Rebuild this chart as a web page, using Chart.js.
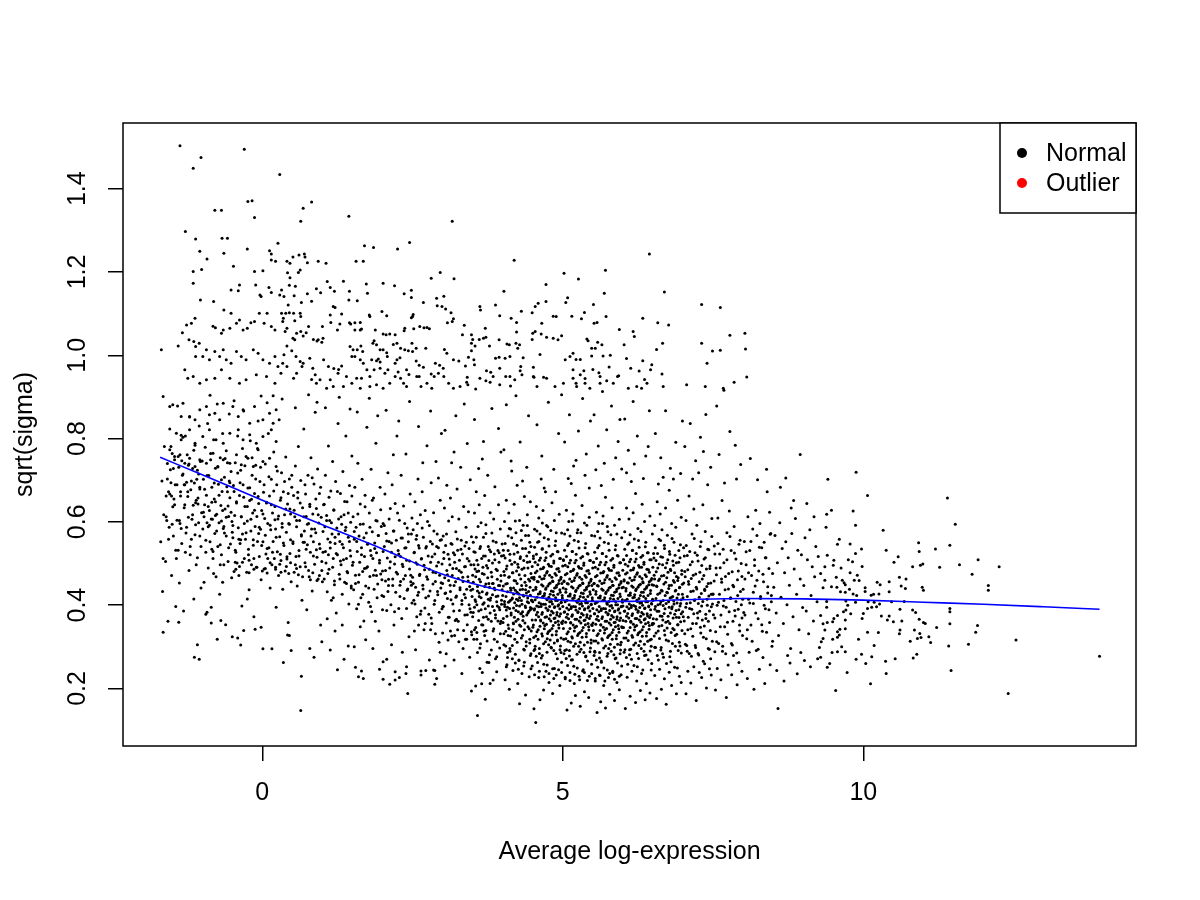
<!DOCTYPE html>
<html><head><meta charset="utf-8">
<script src="https://cdn.jsdelivr.net/npm/chart.js@4.4.1/dist/chart.umd.min.js"></script>
<style>html,body{margin:0;padding:0;background:#fff}#wrap{width:1200px;height:900px}</style>
</head><body><div id="wrap"><canvas id="c" width="1200" height="900"></canvas></div>
<script>
// ---- axis / labels ----
const xTicks = [0, 5, 10];
const yTicks = [0.2, 0.4, 0.6, 0.8, 1.0, 1.2, 1.4];
const xLabel = 'Average log-expression';
const yLabel = 'sqrt(sigma)';
const seriesLabels = ['Normal', 'Outlier'];

// ---- points: flat [x, y, x, y, ...] ----
// high-variance points (upper part of the cloud)
const upperPts = [
-1.37,1.503,-1.02,1.475,-1.15,1.449,-.30,1.495,.29,1.434,-.24,1.369,-.17,1.371,-.79,1.348,-.68,1.348,-.13,1.331,.82,1.368,.68,1.353,.64,1.322,1.44,1.334,3.16,1.322,
-1.28,1.297,-1.11,1.279,-.67,1.281,-.58,1.281,-1.04,1.25,-.92,1.231,-.64,1.245,-.25,1.255,.12,1.251,.15,1.243,.26,1.269,
1.70,1.263,1.85,1.259,2.25,1.255,2.45,1.271,6.44,1.243,4.19,1.228,.61,1.241,.70,1.243,.71,1.236,.51,1.236,.41,1.226,.46,1.221,.93,1.226,1.06,1.221,.75,1.222,1.56,1.226,1.68,1.226,
-1.15,1.201,-1.01,1.206,-1.15,1.173,-.48,1.214,-.13,1.201,.01,1.203,.15,1.229,.22,1.226,
5.71,1.204,5.02,1.197,5.26,1.183,.42,1.198,.63,1.205,.60,1.199,.46,1.186,2.81,1.185,2.96,1.199,3.19,1.184,4.72,1.17,6.69,1.152,5.69,1.149,4.02,1.154,1.08,1.177,1.35,1.178,1.73,1.171,1.75,1.149,2.01,1.173,2.20,1.167,2.48,1.156,2.36,1.148,2.48,1.139,.45,1.168,.55,1.166,.32,1.157,.36,1.141,.53,1.143,.75,1.148,1.45,1.154,1.58,1.131,1.44,1.133,.97,1.15,.90,1.16,1.20,1.154,1.13,1.163,.82,1.13,.65,1.127,.43,1.121,2.68,1.127,2.90,1.137,3.02,1.142,2.91,1.119,2.99,1.117,3.05,1.111,3.14,1.102,3.18,1.088,3.08,1.078,3.16,1.081,3.36,1.072,3.62,1.117,3.63,1.109,3.88,1.121,3.95,1.095,4.14,1.089,4.23,1.079,4.31,1.106,4.49,1.102,4.54,1.117,4.59,1.125,4.72,1.129,4.84,1.094,4.89,1.093,5.05,1.127,5.08,1.138,5.15,1.094,5.31,1.088,5.36,1.103,5.51,1.122,5.52,1.077,5.57,1.079,5.72,1.093,5.94,1.062,6.17,1.057,6.19,1.045,6.33,1.089,6.58,1.078,6.76,1.073,7.31,1.122,7.62,1.115,7.31,1.029,7.49,1.01,7.62,1.012,7.40,.981,6.56,1.014,6.66,1.029,6.33,.987,6.48,.977,6.46,.965,6.65,.955,6.36,.942,6.06,.992,6.13,.969,5.93,.951,6.02,1.025,5.79,1.0,5.67,.998,5.48,.998,5.40,1.039,5.42,1.035,5.48,1.017,5.54,1.017,5.58,1.031,5.65,1.025,5.35,.963,5.50,.966,5.37,.944,5.62,.933,5.73,.939,5.91,.949,5.22,.99,5.29,.99,5.12,.997,5.04,.989,5.17,1.005,5.22,.933,4.98,1.047,4.92,1.037,4.84,1.041,4.73,1.043,4.64,1.051,4.65,1.077,4.50,1.053,4.54,1.057,4.49,1.038,4.23,1.056,4.28,1.025,4.22,1.029,4.25,1.017,4.07,1.027,4.11,1.025,3.94,1.037,3.88,.993,3.94,.995,4.04,.993,4.12,.997,4.34,.994,4.30,.973,4.29,.963,4.51,.971,4.52,.947,4.68,.947,4.62,1.002,4.20,.941,4.05,.949,4.13,.926,3.95,.969,3.73,.963,3.80,.959,3.72,.939,3.79,.935,3.61,1.038,3.68,1.041,3.71,1.065,3.72,1.043,3.78,1.022,3.50,1.038,3.48,1.049,3.48,1.029,3.54,1.022,3.43,.995,3.48,1.011,3.52,.989,3.33,1.049,3.18,.989,3.27,.986,3.38,.974,3.53,.977,3.42,.929,3.40,.935,3.55,.919,3.03,1.014,3.07,1.005,2.88,.981,2.95,.976,3.01,.969,2.81,.955,2.93,.957,2.86,.949,3.02,.949,2.72,1.017,2.56,1.017,2.50,1.009,2.62,1.069,2.69,1.066,2.74,1.067,2.78,1.064,2.51,1.098,2.50,1.093,2.48,1.09,2.52,1.064,2.37,1.065,2.36,1.059,2.49,1.029,2.56,.986,2.61,.976,2.57,.949,2.61,.949,2.68,.971,2.64,.925,2.24,1.029,2.18,1.026,2.30,1.017,2.37,1.013,2.43,1.011,2.29,.994,2.24,.989,2.21,.981,2.40,.965,2.44,.954,2.35,.933,2.40,.925,2.26,.96,2.21,.949,2.30,.945,2.01,1.051,2.06,1.049,2.12,1.051,2.21,1.049,1.96,1.013,2.01,1.013,2.07,1.006,2.08,.997,1.90,1.025,1.86,1.035,1.84,1.029,1.93,.991,1.96,.984,1.90,.987,1.79,1.093,1.78,1.097,1.88,1.061,1.99,1.105,2.07,1.095,1.63,1.061,1.65,1.063,1.54,1.061,1.54,1.078,1.47,1.075,1.45,1.078,1.63,1.079,1.25,1.061,1.32,1.099,1.29,1.075,1.18,1.117,1.21,1.115,1.13,1.097,1.14,1.079,1.00,1.069,.93,1.037,.99,1.031,1.01,1.041,.85,1.038,.91,1.034,.77,1.069,.73,1.054,.68,1.046,.64,1.057,.57,1.053,.54,1.037,.51,1.041,.41,1.065,.38,1.057,.35,1.089,.32,1.101,.39,1.101,.45,1.102,.52,1.101,.63,1.101,.64,1.093,.34,1.081,.54,1.083,.41,1.022,.49,1.011,.56,.997,.36,1.001,.34,.981,.41,.973,.31,.957,.63,.985,.66,.973,.68,.981,.57,.957,.52,.945,.79,.993,.84,.969,.88,.953,.82,.942,.96,.941,.90,.933,1.02,.989,1.10,.973,1.19,.968,1.27,.966,1.32,.974,1.26,.957,1.46,1.021,1.51,1.013,1.58,1.013,1.64,1.022,1.54,.997,1.49,.997,1.63,.989,1.67,1.009,1.68,.981,1.74,.965,1.65,.945,1.79,.949,1.82,.989,1.86,.965,1.96,.969,2.04,.957,2.09,.965,2.12,.933,1.40,.949,1.49,.933,1.57,.945,1.35,.925,1.13,.941,1.18,.925,1.07,.921,1.79,.925,1.90,.929,2.01,.921,1.63,.921,2.74,.933,2.82,.921,3.10,.933,3.18,.921,3.29,.925,3.41,.947,3.62,.945,3.84,.949,3.95,.929,4.12,.949,4.32,.953,4.51,.949,4.57,.925,4.73,.945,4.87,.925,5.01,.933,5.17,.965,5.29,.953,5.17,.945,5.23,.925,5.37,.933,5.45,.921,5.62,.949,5.84,.933,6.09,.921,6.23,.925,6.40,.933,6.67,.925,7.06,.929,7.37,.925,7.67,.921,8.03,1.053,8.04,1.015,8.06,.948,7.68,.916,
-1.40,1.022,-1.68,1.013,-1.22,1.037,-1.14,1.033,-1.12,1.089,-1.26,1.073,-1.18,1.077,-1.33,1.054,-1.03,1.133,-.81,1.129,-.52,1.157,-.38,1.169,-.40,1.155,-.11,1.169,-.04,1.145,-.02,1.141,.11,1.163,.15,1.151,.29,1.145,-.82,1.07,-.78,1.066,-.68,1.053,-.65,1.061,-.54,1.065,-.52,1.101,-.64,1.109,-.43,1.077,-.38,1.085,-.32,1.061,-.25,1.065,-.19,1.078,-.13,1.081,-.05,1.101,.03,1.077,.08,1.101,.15,1.069,.21,1.061,-1.11,1.021,-1.05,1.029,-.93,1.013,-.79,1.009,-.71,.997,-.60,.989,-.52,.981,-.65,1.013,-.88,.989,-.99,.997,-1.11,.997,-.43,1.009,-.35,.997,-.27,.989,-.15,1.013,-.07,1.005,.01,.989,.12,.981,.21,.997,.26,.973,-1.29,.965,-1.24,.945,-1.15,.949,-1.04,.933,-.93,.941,-.79,.945,-.68,.965,-.54,.945,-.38,.933,-.27,.941,-.10,.953,.07,.949,.21,.933,-1.65,.901,-1.54,.877,-1.49,.881,-1.35,.853,-1.32,.885,-1.21,.853,-1.12,.845,-1.04,.869,-.93,.877,-.88,.857,-.79,.861,-.71,.845,-.65,.885,-.49,.877,-.40,.853,-.32,.869,-.21,.837,-.13,.877,.01,.845,.12,.861,.18,.837,.23,.869,-1.43,.813,-1.35,.797,-1.21,.821,-1.12,.789,-.99,.805,-.88,.821,-.77,.797,-.65,.789,-.54,.813,-.40,.821,-.32,.797,-.21,.809,-.10,.789,.01,.805,.15,.821,.23,.793,-1.54,.773,-1.46,.749,-1.37,.761,-1.29,.741,-1.21,.753,-1.12,.733,-1.04,.749,-.93,.741,-.82,.765,-.74,.733,-.65,.749,-.54,.741,-.43,.761,-.35,.737,-.24,.753,-.15,.733,-.07,.773,.01,.745,.12,.753,.23,.733
];
// low average expression (x < 2)
const lowExprPts = [
-1.69,.552,-1.67,.698,-1.66,.433,-1.64,.617,-1.63,.781,-1.61,.505,-1.6,.662,-1.58,.740,-1.57,.361,-1.55,.587,-1.54,.823,-1.52,.694,-1.51,.471,-1.49,.636,-1.48,.566,-1.46,.757,-1.45,.689,-1.43,.512,-1.42,.604,-1.41,.878,-1.39,.731,-1.38,.453,-1.36,.662,-1.35,.584,-1.33,.712,-1.32,.803,-1.31,.386,-1.29,.641,-1.28,.527,-1.26,.695,-1.25,.761,-1.23,.611,-1.22,.483,-1.21,.852,-1.19,.677,-1.18,.558,-1.16,.728,-1.15,.640,-1.14,.415,-1.12,.784,-1.11,.593,-1.09,.702,-1.08,.514,-1.07,.657,-1.05,.830,-1.04,.566,-1.03,.745,-1.02,.441,-1.01,.622,-1.65,.512,-1.59,.603,-1.53,.725,-1.47,.655,-1.44,.397,-1.37,.596,-1.34,.747,-1.27,.573,-1.24,.672,-1.2,.541,-1.17,.606,-1.13,.693,-1.1,.497,-1.06,.715,-1.56,.672,-1.4,.532,-1.3,.689,-1.13,.275,-1.5,.764,-1.35,.808,-1.23,.736,-1.11,.646,-1.04,.679,
-.99,.583,-.98,.702,-.97,.455,-.96,.641,-.95,.779,-.94,.527,-.93,.664,-.92,.598,-.91,.836,-.9,.489,-.89,.711,-.88,.627,-.87,.552,-.86,.749,-.85,.395,-.84,.683,-.83,.606,-.82,.512,-.81,.797,-.8,.655,-.79,.572,-.78,.729,-.77,.468,-.76,.618,-.75,.883,-.74,.541,-.73,.690,-.72,.598,-.71,.426,-.7,.754,-.69,.639,-.68,.521,-.67,.673,-.66,.812,-.65,.584,-.64,.497,-.63,.707,-.62,.631,-.61,.353,-.6,.566,-.59,.684,-.58,.742,-.57,.505,-.56,.613,-.55,.859,-.54,.658,-.53,.547,-.52,.721,-.51,.466,-.505,.601,-.97,.612,-.9,.588,-.84,.534,-.78,.648,-.7,.497,-.63,.573,-.57,.638,-.92,.383,-.75,.318,-.66,.455,-.55,.698,-.87,.904,-.6,.771,-.81,.476,-.68,.602,
-.49,.562,-.48,.687,-.47,.481,-.46,.615,-.45,.742,-.44,.527,-.43,.645,-.42,.501,-.41,.806,-.4,.586,-.39,.471,-.38,.663,-.37,.548,-.36,.724,-.35,.612,-.34,.398,-.33,.571,-.32,.689,-.31,.866,-.3,.512,-.29,.637,-.28,.558,-.27,.757,-.26,.479,-.25,.602,-.24,.681,-.23,.534,-.22,.437,-.21,.651,-.2,.795,-.19,.578,-.18,.497,-.17,.712,-.16,.621,-.15,.544,-.14,.372,-.13,.668,-.12,.589,-.11,.736,-.1,.491,-.09,.613,-.08,.553,-.07,.842,-.06,.644,-.05,.517,-.04,.697,-.03,.582,-.02,.461,-.01,.627,-.45,.503,-.38,.493,-.3,.596,-.22,.508,-.14,.486,-.06,.572,-.41,.321,-.25,.415,-.12,.342,-.47,.891,-.33,.776,-.18,.654,-.08,.776,-.02,.902,
.01,.552,.02,.671,.03,.487,.04,.608,.05,.739,.06,.523,.07,.645,.08,.477,.09,.596,.1,.812,.11,.538,.12,.662,.13,.441,.14,.581,.15,.702,.16,.497,.17,.621,.18,.553,.19,.768,.2,.512,.21,.637,.22,.583,.23,.395,.24,.689,.25,.528,.26,.607,.27,.471,.28,.845,.29,.564,.3,.652,.31,.507,.32,.718,.33,.596,.34,.438,.35,.672,.36,.543,.37,.617,.38,.482,.39,.756,.4,.575,.41,.511,.42,.643,.43,.358,.44,.596,.45,.703,.46,.524,.47,.619,.48,.456,.49,.683,.05,.488,.13,.502,.22,.486,.31,.479,.4,.493,.47,.502,.16,.295,.35,.262,.45,.327,.08,.886,.33,.895,.18,.903,
.51,.548,.52,.663,.53,.479,.54,.612,.55,.734,.56,.517,.57,.588,.58,.446,.59,.657,.6,.781,.61,.531,.62,.603,.63,.492,.64,.699,.65,.566,.66,.412,.67,.634,.68,.551,.69,.823,.7,.578,.71,.502,.72,.667,.73,.613,.74,.389,.75,.545,.76,.712,.77,.596,.78,.468,.79,.642,.8,.527,.81,.754,.82,.583,.83,.434,.84,.619,.85,.552,.86,.691,.87,.498,.88,.863,.89,.574,.9,.632,.91,.515,.92,.727,.93,.463,.94,.597,.95,.668,.96,.536,.97,.352,.98,.611,.99,.483,.57,.488,.72,.492,.84,.478,.95,.471,.64,.147,.65,.229,.79,.296,.86,.275,.99,.312,.77,.905,.91,.887,.55,.874,
1.01,.527,1.02,.641,1.03,.463,1.04,.588,1.05,.712,1.06,.501,1.07,.615,1.08,.432,1.09,.559,1.1,.782,1.11,.486,1.12,.603,1.13,.537,1.14,.674,1.15,.412,1.16,.571,1.17,.745,1.18,.512,1.19,.629,1.2,.458,1.21,.548,1.22,.697,1.23,.381,1.24,.585,1.25,.521,1.26,.836,1.27,.607,1.28,.474,1.29,.553,1.3,.668,1.31,.497,1.32,.594,1.33,.426,1.34,.721,1.35,.538,1.36,.617,1.37,.455,1.38,.579,1.39,.806,1.4,.512,1.41,.648,1.42,.478,1.43,.563,1.44,.403,1.45,.687,1.46,.531,1.47,.599,1.48,.446,1.49,.758,1.13,.292,1.25,.245,1.36,.270,1.43,.302,1.21,.338,1.08,.367,1.33,.352,1.05,.874,1.28,.899,1.46,.871,1.18,.418,
1.5,.496,1.51,.612,1.52,.437,1.53,.558,1.54,.683,1.55,.472,1.56,.587,1.57,.391,1.58,.529,1.59,.741,1.6,.455,1.61,.566,1.62,.503,1.63,.643,1.64,.418,1.65,.538,1.66,.702,1.67,.481,1.68,.595,1.69,.362,1.7,.517,1.71,.664,1.72,.446,1.73,.573,1.74,.827,1.75,.492,1.76,.548,1.77,.407,1.78,.621,1.79,.469,1.8,.531,1.81,.726,1.82,.384,1.83,.576,1.84,.512,1.85,.657,1.86,.438,1.87,.549,1.88,.484,1.89,.789,1.9,.526,1.91,.602,1.92,.451,1.93,.567,1.94,.338,1.95,.508,1.96,.683,1.97,.475,1.98,.589,1.99,.423,1.55,.251,1.65,.242,1.68,.224,1.6,.228,1.95,.246,1.53,.300,1.72,.317,1.84,.296,1.58,.864,1.78,.897,1.92,.855,1.63,.348,1.88,.361,
-1.65,.335,-1.39,.359,-1.08,.305,-1.05,.27,-.94,.378,-.85,.357,-.69,.363,-.50,.324,-.36,.304,-.31,.339,.01,.295,-.02,.347,.42,.328,.48,.291
];
// extra points in the dense band of low / mid expression
const leftExtraPts = [
-1.60,.612,-1.58,.703,-1.56,.558,-1.54,.667,-1.52,.781,-1.5,.594,-1.48,.728,-1.46,.641,-1.44,.532,-1.42,.689,-1.4,.757,-1.38,.603,-1.36,.672,-1.34,.548,-1.32,.715,-1.3,.634,-1.28,.806,-1.26,.587,-1.24,.661,-1.22,.739,-1.2,.521,-1.18,.698,-1.16,.617,-1.14,.772,-1.12,.569,-1.1,.652,-1.08,.724,-1.06,.598,-1.04,.683,-1.02,.541,-1,.746,-.98,.623,-.96,.678,-.94,.556,-.92,.711,-.9,.637,-.88,.592,-.86,.764,-.84,.647,-.82,.529,-.8,.693,-.78,.615,-.76,.578,-.74,.732,-.72,.664,-.7,.545,-.68,.701,-.66,.627,-.64,.589,-.62,.752,-.6,.611,-.58,.672,-.56,.538,-.54,.694,-.52,.623,-.5,.575,-1.51,.662,-1.29,.689,-1.07,.643,-.85,.607,
-.49,.591,-.47,.673,-.45,.532,-.43,.648,-.41,.717,-.39,.558,-.37,.694,-.35,.612,-.33,.503,-.31,.659,-.29,.735,-.27,.574,-.25,.637,-.23,.521,-.21,.682,-.19,.606,-.17,.754,-.15,.557,-.13,.628,-.11,.703,-.09,.491,-.07,.661,-.05,.587,-.03,.731,-.01,.543,.01,.619,.03,.689,.05,.568,.07,.647,.09,.512,.11,.708,.13,.592,.15,.641,.17,.527,.19,.674,.21,.605,.23,.563,.25,.722,.27,.614,.29,.498,.31,.658,.33,.587,.35,.549,.37,.697,.39,.631,.41,.516,.43,.668,.45,.594,.47,.557,.49,.712,-.44,.486,-.22,.478,0,.482,.22,.491,.44,.476,-.36,.557,-.14,.512,.08,.536,.3,.522,.46,.631,
.51,.552,.53,.628,.55,.497,.57,.603,.59,.671,.61,.518,.63,.645,.65,.569,.67,.468,.69,.612,.71,.689,.73,.534,.75,.594,.77,.483,.79,.637,.81,.566,.83,.706,.85,.518,.87,.583,.89,.655,.91,.459,.93,.617,.95,.547,.97,.683,.99,.505,1.01,.577,1.03,.642,1.05,.529,1.07,.603,1.09,.476,1.11,.659,1.13,.551,1.15,.598,1.17,.491,1.19,.628,1.21,.563,1.23,.524,1.25,.673,1.27,.571,1.29,.463,1.31,.612,1.33,.546,1.35,.509,1.37,.649,1.39,.587,1.41,.481,1.43,.621,1.45,.553,1.47,.518,1.49,.662,.6,.473,.8,.461,1.0,.456,1.2,.449,1.4,.452,.7,.551,.9,.533,1.1,.521,1.3,.506,1.48,.441,
1.51,.503,1.53,.577,1.55,.452,1.57,.553,1.59,.619,1.61,.473,1.63,.594,1.65,.521,1.67,.426,1.69,.562,1.71,.636,1.73,.489,1.75,.546,1.77,.441,1.79,.587,1.81,.519,1.83,.652,1.85,.472,1.87,.536,1.89,.603,1.91,.418,1.93,.567,1.95,.501,1.97,.629,1.99,.461,2.01,.529,2.03,.591,2.05,.483,2.07,.554,2.09,.433,2.11,.607,2.13,.504,2.15,.549,2.17,.447,2.19,.578,2.21,.516,2.23,.479,2.25,.621,2.27,.523,2.29,.421,2.31,.561,2.33,.498,2.35,.463,2.37,.596,2.39,.538,2.41,.436,2.43,.571,2.45,.506,2.47,.472,2.49,.609,1.6,.402,1.8,.397,2.0,.389,2.2,.384,2.4,.392,1.7,.488,1.9,.471,2.1,.462,2.3,.457,2.48,.448,
2.51,.452,2.525,.526,2.54,.403,2.555,.502,2.57,.567,2.585,.424,2.6,.543,2.615,.471,2.63,.378,2.645,.511,2.66,.585,2.675,.439,2.69,.496,2.705,.393,2.72,.537,2.735,.468,2.75,.601,2.765,.422,2.78,.486,2.795,.553,2.81,.369,2.825,.516,2.84,.451,2.855,.578,2.87,.411,2.885,.478,2.9,.541,2.915,.433,2.93,.503,2.945,.383,2.96,.556,2.975,.454,2.99,.499,3.005,.397,3.02,.527,3.035,.466,3.05,.429,3.065,.571,3.08,.473,3.095,.371,3.11,.511,3.125,.448,3.14,.413,3.155,.546,3.17,.488,3.185,.386,3.2,.521,3.215,.456,3.23,.422,3.245,.559,3.26,.361,3.275,.483,3.29,.437,3.305,.534,3.32,.402,3.335,.467,3.35,.339,3.365,.492,3.38,.418,3.395,.551,3.41,.377,3.425,.458,3.44,.506,3.455,.391,3.47,.436,3.485,.329,3.5,.472,2.6,.352,2.8,.341,3.0,.333,3.2,.327,3.4,.318
];
// mid average expression (2 <= x < 4)
const midExprPts = [
2.0,.482,2.01,.596,2.02,.421,2.03,.541,2.04,.667,2.05,.458,2.06,.572,2.07,.387,2.08,.513,2.09,.718,2.1,.447,2.11,.553,2.12,.489,2.13,.632,2.14,.401,2.15,.527,2.16,.689,2.17,.463,2.18,.578,2.19,.352,2.2,.499,2.21,.644,2.22,.431,2.23,.556,2.24,.806,2.25,.475,2.26,.531,2.27,.392,2.28,.604,2.29,.448,2.3,.517,2.31,.712,2.32,.368,2.33,.561,2.34,.493,2.35,.638,2.36,.416,2.37,.537,2.38,.471,2.39,.763,2.4,.508,2.41,.585,2.42,.439,2.43,.552,2.44,.324,2.45,.487,2.46,.667,2.47,.456,2.48,.571,2.49,.405,2.01,.222,2.12,.210,2.21,.240,2.28,.226,2.42,.188,2.01,.264,2.07,.270,2.21,.220,2.4,.252,2.39,.236,2.15,.305,2.33,.287,2.06,.868,2.27,.842,2.45,.889,2.18,.761,
2.5,.467,2.51,.581,2.52,.412,2.53,.527,2.54,.648,2.55,.443,2.56,.558,2.57,.372,2.58,.498,2.59,.703,2.6,.431,2.61,.537,2.62,.474,2.63,.617,2.64,.386,2.65,.512,2.66,.672,2.67,.448,2.68,.563,2.69,.341,2.7,.485,2.71,.627,2.72,.418,2.73,.541,2.74,.783,2.75,.462,2.76,.518,2.77,.378,2.78,.591,2.79,.434,2.8,.503,2.81,.694,2.82,.356,2.83,.547,2.84,.479,2.85,.622,2.86,.402,2.87,.523,2.88,.457,2.89,.745,2.9,.494,2.91,.571,2.92,.425,2.93,.538,2.94,.311,2.95,.472,2.96,.652,2.97,.441,2.98,.557,2.99,.391,2.64,.242,2.72,.243,2.87,.243,2.9,.224,2.87,.210,2.64,.232,2.85,.244,2.55,.293,2.78,.268,2.96,.287,2.53,.338,2.71,.356,2.88,.331,2.6,.829,2.8,.866,2.98,.812,2.67,.742,2.93,.705,2.58,.596,
3.0,.452,3.01,.566,3.01,.397,3.02,.512,3.03,.633,3.04,.428,3.04,.254,3.05,.543,3.06,.357,3.07,.483,3.07,.688,3.08,.416,3.09,.522,3.1,.459,3.1,.602,3.11,.371,3.12,.497,3.13,.657,3.13,.433,3.14,.548,3.15,.326,3.16,.471,3.16,.612,3.17,.403,3.18,.526,3.19,.768,3.19,.447,3.2,.503,3.21,.363,3.22,.576,3.22,.419,3.23,.488,3.24,.679,3.25,.341,3.25,.532,3.26,.464,3.27,.607,3.28,.387,3.28,.508,3.29,.442,3.3,.731,3.31,.479,3.31,.556,3.32,.411,3.33,.523,3.34,.296,3.34,.457,3.35,.637,3.36,.426,3.37,.542,3.37,.376,3.38,.493,3.39,.587,3.4,.438,3.41,.512,3.41,.353,3.42,.468,3.43,.624,3.44,.401,3.44,.536,3.45,.445,3.46,.701,3.47,.383,3.47,.497,3.48,.564,3.49,.421,3.19,.268,3.32,.236,3.06,.283,3.27,.312,3.45,.275,3.13,.338,3.38,.318,3.04,.82,3.22,.855,3.41,.788,3.15,.742,3.36,.883,3.09,.316,3.48,.336,3.23,.366,
3.5,.438,3.51,.551,3.51,.382,3.52,.497,3.52,.318,3.53,.621,3.54,.413,3.54,.527,3.55,.346,3.55,.468,3.56,.672,3.57,.401,3.57,.508,3.58,.445,3.58,.286,3.59,.589,3.6,.363,3.6,.482,3.61,.641,3.61,.421,3.62,.536,3.63,.307,3.63,.456,3.64,.598,3.64,.389,3.65,.512,3.66,.751,3.66,.432,3.67,.491,3.67,.352,3.68,.563,3.69,.406,3.69,.474,3.7,.663,3.7,.327,3.71,.518,3.72,.451,3.72,.593,3.73,.372,3.73,.495,3.74,.429,3.75,.712,3.75,.466,3.76,.541,3.76,.398,3.77,.507,3.78,.281,3.78,.443,3.79,.622,3.79,.412,3.8,.528,3.81,.361,3.81,.479,3.82,.573,3.83,.425,3.83,.501,3.84,.338,3.84,.452,3.85,.607,3.86,.387,3.86,.523,3.87,.437,3.87,.684,3.88,.369,3.89,.486,3.89,.551,3.9,.408,3.91,.462,3.91,.312,3.92,.531,3.92,.422,3.93,.641,3.94,.394,3.94,.503,3.95,.447,3.96,.583,3.96,.356,3.97,.471,3.98,.518,3.98,.402,3.99,.437,3.55,.206,3.65,.211,3.79,.212,3.58,.135,3.71,.174,3.84,.220,3.9,.240,3.48,.194,3.62,.248,3.74,.263,3.88,.271,3.53,.846,3.68,.793,3.82,.872,3.97,.768,3.6,.728,3.93,.824,3.77,.262,3.66,.238,3.95,.297,3.57,.334,3.72,.339,3.86,.318
];
// core (4 <= x < 7)
const coreExprPts = [
4.0,.423,4.01,.532,4.01,.368,4.02,.481,4.02,.305,4.03,.601,4.03,.402,4.04,.513,4.05,.337,4.05,.451,4.06,.652,4.06,.388,4.07,.494,4.08,.432,4.08,.274,4.09,.566,4.09,.352,4.1,.467,4.1,.621,4.11,.409,4.12,.522,4.12,.296,4.13,.441,4.13,.583,4.14,.376,4.15,.498,4.15,.722,4.16,.417,4.16,.478,4.17,.341,4.18,.547,4.18,.393,4.19,.459,4.19,.642,4.2,.318,4.2,.503,4.21,.436,4.22,.574,4.22,.361,4.23,.482,4.23,.414,4.24,.688,4.24,.452,4.25,.527,4.26,.384,4.26,.491,4.27,.268,4.27,.427,4.28,.603,4.28,.398,4.29,.512,4.3,.349,4.3,.463,4.31,.556,4.31,.411,4.32,.486,4.33,.327,4.33,.438,4.34,.592,4.34,.373,4.35,.507,4.35,.422,4.36,.661,4.37,.357,4.37,.471,4.38,.536,4.38,.394,4.39,.447,4.39,.302,4.4,.518,4.41,.408,4.41,.617,4.42,.381,4.42,.489,4.43,.433,4.43,.567,4.44,.343,4.45,.458,4.45,.504,4.46,.389,4.46,.424,4.47,.283,4.47,.541,4.48,.412,4.48,.466,4.49,.364,4.49,.493,4.04,.221,4.11,.198,4.17,.243,4.25,.212,4.32,.236,4.38,.184,4.44,.228,4.07,.257,4.21,.261,4.35,.254,4.47,.247,4.28,.163,4.14,.746,4.29,.792,4.43,.855,4.06,.881,4.22,.903,4.4,.731,4.02,.773,4.33,.698,4.46,.648,4.12,.289,4.36,.292,4.24,.311,4.45,.318,4.09,.327,4.31,.379,4.18,.355,
4.5,.408,4.51,.518,4.51,.352,4.52,.467,4.52,.291,4.53,.582,4.53,.391,4.54,.503,4.55,.326,4.55,.438,4.56,.637,4.56,.377,4.57,.482,4.57,.419,4.58,.262,4.58,.551,4.59,.341,4.59,.456,4.6,.609,4.6,.396,4.61,.508,4.61,.284,4.62,.428,4.62,.571,4.63,.364,4.63,.487,4.64,.703,4.64,.403,4.65,.463,4.65,.331,4.66,.536,4.66,.382,4.67,.446,4.67,.627,4.68,.307,4.68,.491,4.69,.423,4.69,.562,4.7,.351,4.7,.471,4.71,.402,4.71,.672,4.72,.441,4.72,.514,4.73,.372,4.73,.477,4.74,.256,4.74,.413,4.75,.588,4.75,.387,4.76,.498,4.76,.336,4.77,.451,4.77,.542,4.78,.397,4.78,.472,4.79,.316,4.79,.426,4.8,.579,4.8,.362,4.81,.493,4.81,.409,4.82,.646,4.82,.344,4.83,.458,4.83,.522,4.84,.381,4.84,.433,4.85,.291,4.85,.506,4.86,.394,4.86,.603,4.87,.369,4.87,.476,4.88,.418,4.88,.554,4.89,.329,4.89,.443,4.9,.487,4.9,.376,4.91,.411,4.91,.271,4.92,.528,4.92,.398,4.93,.452,4.93,.353,4.94,.481,4.94,.618,4.95,.391,4.95,.437,4.96,.302,4.96,.512,4.97,.406,4.97,.467,4.98,.358,4.98,.573,4.99,.423,4.55,.118,4.52,.151,4.62,.173,4.68,.196,4.77,.214,4.83,.188,4.89,.232,4.95,.207,4.6,.226,4.72,.241,4.86,.248,4.98,.238,4.57,.833,4.65,.758,4.76,.887,4.85,.726,4.93,.812,4.69,.681,4.88,.672,4.98,.905,4.54,.301,4.66,.279,4.81,.297,4.91,.314,4.74,.319,4.97,.286,
5.0,.397,5.01,.509,5.01,.344,5.02,.458,5.02,.283,5.03,.571,5.03,.384,5.04,.496,5.05,.319,5.05,.431,5.06,.628,5.06,.371,5.07,.476,5.07,.412,5.08,.255,5.08,.543,5.09,.336,5.09,.451,5.1,.601,5.1,.389,5.11,.501,5.11,.278,5.12,.422,5.12,.566,5.13,.358,5.13,.481,5.14,.692,5.14,.396,5.15,.457,5.15,.324,5.16,.529,5.16,.377,5.17,.441,5.17,.619,5.18,.301,5.18,.486,5.19,.417,5.19,.556,5.2,.346,5.2,.466,5.21,.396,5.21,.664,5.22,.436,5.22,.508,5.23,.366,5.23,.472,5.24,.249,5.24,.407,5.25,.581,5.25,.382,5.26,.493,5.26,.331,5.27,.446,5.27,.537,5.28,.392,5.28,.467,5.29,.311,5.29,.421,5.3,.574,5.3,.357,5.31,.488,5.31,.404,5.32,.639,5.32,.339,5.33,.453,5.33,.517,5.34,.376,5.34,.428,5.35,.286,5.35,.501,5.36,.389,5.36,.597,5.37,.364,5.37,.471,5.38,.413,5.38,.548,5.39,.324,5.39,.438,5.4,.482,5.4,.371,5.41,.406,5.41,.266,5.42,.523,5.42,.393,5.43,.447,5.43,.348,5.44,.476,5.44,.611,5.45,.386,5.45,.432,5.46,.297,5.46,.507,5.47,.401,5.47,.462,5.48,.353,5.48,.567,5.49,.418,5.07,.148,5.14,.165,5.21,.183,5.29,.157,5.36,.192,5.43,.178,5.04,.223,5.12,.238,5.19,.212,5.27,.229,5.34,.245,5.41,.219,5.48,.236,5.03,.792,5.11,.857,5.18,.734,5.26,.818,5.33,.896,5.39,.763,5.46,.842,5.09,.704,5.22,.748,5.37,.712,5.44,.681,5.06,.293,5.16,.269,5.28,.288,5.38,.276,5.47,.309,5.13,.311,
5.5,.392,5.51,.503,5.51,.339,5.52,.452,5.52,.279,5.53,.566,5.53,.379,5.54,.491,5.55,.314,5.55,.426,5.56,.623,5.56,.366,5.57,.471,5.57,.407,5.58,.251,5.58,.538,5.59,.331,5.59,.446,5.6,.596,5.6,.384,5.61,.497,5.61,.273,5.62,.417,5.62,.561,5.63,.353,5.63,.477,5.64,.687,5.64,.391,5.65,.452,5.65,.319,5.66,.524,5.66,.372,5.67,.436,5.67,.614,5.68,.297,5.68,.481,5.69,.412,5.69,.551,5.7,.341,5.7,.461,5.71,.391,5.71,.659,5.72,.431,5.72,.503,5.73,.361,5.73,.467,5.74,.244,5.74,.402,5.75,.576,5.75,.377,5.76,.488,5.76,.326,5.77,.441,5.77,.532,5.78,.387,5.78,.462,5.79,.306,5.79,.416,5.8,.569,5.8,.352,5.81,.483,5.81,.399,5.82,.634,5.82,.334,5.83,.448,5.83,.512,5.84,.371,5.84,.423,5.85,.281,5.85,.496,5.86,.384,5.86,.592,5.87,.359,5.87,.466,5.88,.408,5.88,.543,5.89,.319,5.89,.433,5.9,.477,5.9,.366,5.91,.401,5.91,.261,5.92,.518,5.92,.388,5.93,.442,5.93,.343,5.94,.471,5.94,.606,5.95,.381,5.95,.427,5.96,.292,5.96,.502,5.97,.396,5.97,.457,5.98,.348,5.98,.562,5.99,.413,5.57,.142,5.63,.168,5.71,.153,5.78,.186,5.86,.171,5.94,.197,5.54,.218,5.61,.232,5.68,.207,5.76,.226,5.83,.241,5.9,.214,5.97,.233,5.52,.857,5.59,.782,5.66,.913,5.73,.821,5.81,.878,5.88,.754,5.95,.846,5.55,.725,5.69,.741,5.84,.702,5.92,.793,5.98,.727,5.6,.958,5.77,.972,5.53,.289,5.64,.266,5.75,.284,5.87,.271,5.96,.305,
6.0,.398,6.01,.509,6.01,.346,6.02,.461,6.02,.287,6.03,.576,6.03,.386,6.04,.498,6.05,.321,6.05,.434,6.06,.633,6.06,.373,6.07,.478,6.07,.414,6.08,.258,6.08,.546,6.09,.338,6.09,.453,6.1,.607,6.1,.391,6.11,.504,6.11,.281,6.12,.424,6.12,.569,6.13,.361,6.13,.484,6.14,.697,6.14,.399,6.15,.459,6.15,.327,6.16,.532,6.16,.379,6.17,.443,6.17,.622,6.18,.304,6.18,.489,6.19,.419,6.19,.559,6.2,.348,6.2,.468,6.21,.397,6.21,.668,6.22,.438,6.22,.511,6.23,.368,6.23,.474,6.24,.252,6.24,.409,6.25,.584,6.25,.383,6.26,.495,6.26,.333,6.27,.448,6.27,.539,6.28,.394,6.28,.469,6.29,.313,6.29,.423,6.3,.577,6.3,.359,6.31,.491,6.31,.406,6.32,.642,6.32,.341,6.33,.456,6.33,.519,6.34,.378,6.34,.431,6.35,.289,6.35,.503,6.36,.392,6.36,.601,6.37,.367,6.37,.473,6.38,.416,6.38,.551,6.39,.326,6.39,.441,6.4,.486,6.41,.374,6.41,.408,6.42,.269,6.42,.526,6.43,.396,6.43,.449,6.44,.351,6.44,.479,6.45,.614,6.46,.389,6.46,.435,6.47,.301,6.47,.509,6.48,.403,6.48,.464,6.49,.356,6.49,.571,6.04,.152,6.12,.181,6.21,.166,6.29,.195,6.37,.173,6.45,.189,6.07,.227,6.15,.241,6.23,.218,6.31,.236,6.39,.212,6.47,.244,6.03,.847,6.09,.772,6.17,.889,6.24,.806,6.31,.921,6.38,.758,6.44,.867,6.06,.718,6.19,.739,6.34,.704,6.42,.781,6.27,.962,6.13,.294,6.26,.272,6.36,.279,6.45,.316,
6.5,.411,6.51,.524,6.51,.356,6.52,.472,6.53,.299,6.53,.591,6.54,.397,6.55,.507,6.55,.333,6.56,.446,6.57,.648,6.57,.385,6.58,.489,6.58,.426,6.59,.268,6.6,.558,6.6,.349,6.61,.463,6.62,.619,6.62,.403,6.63,.516,6.63,.292,6.64,.436,6.65,.581,6.65,.373,6.66,.497,6.67,.707,6.67,.411,6.68,.471,6.69,.339,6.69,.544,6.7,.391,6.71,.455,6.71,.633,6.72,.316,6.73,.501,6.73,.431,6.74,.568,6.75,.361,6.75,.479,6.76,.408,6.77,.676,6.77,.447,6.78,.522,6.79,.381,6.79,.486,6.8,.264,6.81,.419,6.81,.596,6.82,.396,6.83,.506,6.83,.344,6.84,.459,6.85,.551,6.85,.403,6.86,.478,6.87,.327,6.87,.434,6.88,.587,6.89,.371,6.89,.502,6.9,.417,6.91,.652,6.91,.353,6.92,.466,6.93,.531,6.93,.389,6.94,.442,6.95,.302,6.95,.514,6.96,.404,6.97,.611,6.97,.379,6.98,.483,6.99,.426,6.56,.176,6.64,.198,6.72,.162,6.81,.207,6.89,.187,6.97,.214,6.53,.231,6.61,.246,6.69,.223,6.77,.239,6.86,.251,6.94,.229,6.54,.812,6.63,.754,6.71,.867,6.79,.729,6.88,.791,6.96,.716,6.59,.691,6.84,.703,6.99,.842,6.66,.283,6.78,.276,6.92,.291
];
// extra points in the darkest part of the cloud (x 3.5 to 8.5, sigma 0.25 to 0.6)
const coreExtraPts = [
3.50,.372,3.51,.455,3.52,.528,3.53,.341,3.54,.487,3.55,.409,3.56,.563,3.57,.318,3.58,.434,3.59,.497,3.6,.386,3.61,.462,3.62,.297,3.63,.541,3.64,.418,3.65,.353,3.66,.476,3.67,.402,3.68,.518,3.69,.337,3.7,.445,3.71,.391,3.72,.572,3.73,.426,3.74,.314,3.75,.489,3.76,.366,3.77,.452,3.78,.533,3.79,.381,3.8,.417,3.81,.292,3.82,.468,3.83,.397,3.84,.554,3.85,.343,3.86,.441,3.87,.509,3.88,.377,3.89,.421,3.9,.276,3.91,.483,3.92,.362,3.93,.447,3.94,.526,3.95,.389,3.96,.331,3.97,.458,3.98,.412,3.99,.547,3.53,.395,3.61,.429,3.68,.371,3.76,.414,3.83,.452,3.91,.398,3.97,.361,3.57,.481,
4.005,.358,4.01,.446,4.015,.519,4.02,.331,4.03,.472,4.035,.397,4.04,.548,4.05,.302,4.055,.421,4.06,.487,4.07,.373,4.075,.452,4.08,.286,4.09,.531,4.095,.407,4.1,.344,4.11,.468,4.115,.392,4.12,.507,4.13,.326,4.135,.436,4.14,.381,4.15,.562,4.155,.415,4.16,.303,4.17,.478,4.175,.357,4.18,.441,4.19,.523,4.195,.371,4.2,.406,4.21,.282,4.215,.458,4.22,.387,4.23,.543,4.235,.334,4.24,.431,4.25,.498,4.255,.366,4.26,.411,4.27,.267,4.275,.473,4.28,.352,4.29,.437,4.295,.516,4.3,.379,4.31,.321,4.315,.447,4.32,.402,4.33,.536,4.335,.363,4.34,.424,4.35,.294,4.355,.489,4.36,.341,4.37,.455,4.375,.398,4.38,.567,4.39,.312,4.395,.429,4.4,.376,4.41,.503,4.415,.417,4.42,.348,4.43,.462,4.435,.385,4.44,.527,4.45,.309,4.455,.443,4.46,.394,4.47,.476,4.475,.338,4.48,.412,4.49,.254,4.495,.466,4.03,.409,4.08,.395,4.13,.412,4.18,.427,4.23,.399,4.28,.418,4.33,.384,4.38,.437,4.43,.406,4.48,.392,4.06,.252,4.16,.271,4.26,.246,4.36,.263,4.46,.279,4.11,.584,4.21,.602,4.31,.579,4.41,.591,4.45,.551,
4.502,.347,4.507,.436,4.511,.512,4.516,.322,4.52,.462,4.525,.388,4.53,.539,4.534,.294,4.539,.413,4.543,.478,4.548,.364,4.552,.443,4.557,.277,4.561,.522,4.566,.398,4.57,.336,4.575,.457,4.579,.383,4.584,.497,4.588,.318,4.593,.427,4.597,.372,4.602,.553,4.606,.406,4.611,.296,4.615,.468,4.62,.349,4.624,.432,4.629,.513,4.633,.362,4.638,.397,4.642,.273,4.647,.449,4.651,.378,4.656,.534,4.66,.326,4.665,.421,4.669,.488,4.674,.357,4.678,.402,4.683,.258,4.687,.464,4.692,.343,4.696,.428,4.701,.507,4.705,.371,4.71,.312,4.714,.438,4.719,.393,4.723,.527,4.728,.354,4.732,.415,4.737,.287,4.741,.481,4.746,.332,4.75,.446,4.755,.389,4.759,.558,4.764,.305,4.768,.419,4.773,.367,4.777,.494,4.782,.408,4.786,.339,4.791,.453,4.795,.376,4.8,.518,4.804,.299,4.809,.434,4.813,.385,4.818,.467,4.822,.328,4.827,.403,4.831,.247,4.836,.457,4.84,.351,4.845,.424,4.849,.501,4.854,.368,4.858,.309,4.863,.441,4.867,.396,4.872,.543,4.876,.358,4.881,.411,4.885,.283,4.89,.472,4.894,.337,4.899,.448,4.903,.382,4.908,.529,4.912,.316,4.917,.426,4.921,.361,4.926,.488,4.93,.401,4.935,.345,4.939,.459,4.944,.373,4.948,.512,4.953,.293,4.957,.431,4.962,.379,4.966,.463,4.971,.321,4.975,.407,4.98,.263,4.984,.452,4.989,.356,4.993,.417,4.998,.494,4.53,.233,4.61,.241,4.69,.228,4.77,.236,4.85,.224,4.93,.245,4.57,.578,4.73,.591,4.89,.574,4.66,.597,
5.002,.362,5.006,.441,5.011,.507,5.015,.318,5.02,.457,5.024,.383,5.029,.532,5.033,.291,5.038,.408,5.042,.473,5.047,.359,5.051,.438,5.056,.272,5.06,.517,5.065,.393,5.069,.331,5.074,.452,5.078,.378,5.083,.492,5.087,.313,5.092,.422,5.096,.367,5.101,.548,5.105,.401,5.11,.291,5.114,.463,5.119,.344,5.123,.427,5.128,.508,5.132,.357,5.137,.392,5.141,.268,5.146,.444,5.15,.373,5.155,.529,5.159,.321,5.164,.416,5.168,.483,5.173,.352,5.177,.397,5.182,.253,5.186,.459,5.191,.338,5.195,.423,5.2,.502,5.204,.366,5.209,.307,5.213,.433,5.218,.388,5.222,.522,5.227,.349,5.231,.41,5.236,.282,5.24,.476,5.245,.327,5.249,.441,5.254,.384,5.258,.553,5.263,.301,5.267,.414,5.272,.362,5.276,.489,5.281,.403,5.285,.334,5.29,.448,5.294,.371,5.299,.513,5.303,.294,5.308,.429,5.312,.38,5.317,.462,5.321,.323,5.326,.398,5.33,.242,5.335,.452,5.339,.346,5.344,.419,5.348,.496,5.353,.363,5.357,.304,5.362,.436,5.366,.391,5.371,.538,5.375,.353,5.38,.406,5.384,.278,5.389,.467,5.393,.332,5.398,.443,5.402,.377,5.407,.524,5.411,.311,5.416,.421,5.42,.356,5.425,.483,5.429,.396,5.434,.34,5.438,.454,5.443,.368,5.447,.507,5.452,.288,5.456,.426,5.461,.374,5.465,.458,5.47,.316,5.474,.402,5.479,.258,5.483,.447,5.488,.351,5.492,.412,5.497,.489,5.04,.227,5.12,.219,5.2,.234,5.28,.221,5.36,.238,5.44,.229,5.08,.581,5.24,.574,5.4,.592,5.16,.602,
5.502,.357,5.507,.437,5.511,.503,5.516,.314,5.52,.452,5.525,.379,5.53,.527,5.534,.287,5.539,.404,5.543,.468,5.548,.354,5.552,.433,5.557,.268,5.561,.512,5.566,.389,5.57,.327,5.575,.447,5.579,.373,5.584,.487,5.588,.309,5.593,.418,5.597,.363,5.602,.543,5.606,.397,5.611,.286,5.615,.458,5.62,.339,5.624,.422,5.629,.503,5.633,.352,5.638,.387,5.642,.263,5.647,.439,5.651,.368,5.656,.524,5.66,.316,5.665,.411,5.669,.478,5.674,.347,5.678,.392,5.683,.249,5.687,.454,5.692,.333,5.696,.418,5.701,.497,5.705,.361,5.71,.302,5.714,.428,5.719,.383,5.723,.517,5.728,.344,5.732,.405,5.737,.277,5.741,.471,5.746,.322,5.75,.436,5.755,.379,5.759,.548,5.764,.296,5.768,.409,5.773,.357,5.777,.484,5.782,.398,5.786,.329,5.791,.443,5.795,.366,5.8,.508,5.804,.289,5.809,.424,5.813,.375,5.818,.457,5.822,.318,5.827,.393,5.831,.238,5.836,.447,5.84,.341,5.845,.414,5.849,.491,5.854,.358,5.858,.299,5.863,.431,5.867,.386,5.872,.533,5.876,.348,5.881,.401,5.885,.273,5.89,.462,5.894,.327,5.899,.438,5.903,.372,5.908,.519,5.912,.306,5.917,.416,5.921,.351,5.926,.478,5.93,.391,5.935,.335,5.939,.449,5.944,.363,5.948,.502,5.953,.283,5.957,.421,5.962,.369,5.966,.453,5.971,.311,5.975,.397,5.98,.254,5.984,.442,5.989,.346,5.993,.407,5.998,.484,5.54,.224,5.62,.231,5.7,.218,5.78,.236,5.86,.222,5.94,.229,5.58,.577,5.74,.589,5.9,.571,5.66,.596,
6.002,.363,6.007,.443,6.011,.509,6.016,.321,6.02,.458,6.025,.385,6.03,.534,6.034,.293,6.039,.411,6.043,.475,6.048,.361,6.052,.44,6.057,.274,6.061,.519,6.066,.396,6.07,.333,6.075,.454,6.079,.38,6.084,.494,6.088,.315,6.093,.424,6.097,.369,6.102,.55,6.106,.403,6.111,.293,6.115,.465,6.12,.346,6.124,.429,6.129,.51,6.133,.359,6.138,.394,6.142,.27,6.147,.446,6.151,.375,6.156,.531,6.16,.323,6.165,.418,6.169,.485,6.174,.354,6.178,.399,6.183,.255,6.187,.461,6.192,.34,6.196,.425,6.201,.504,6.205,.368,6.21,.309,6.214,.435,6.219,.39,6.223,.524,6.228,.351,6.232,.412,6.237,.284,6.241,.478,6.246,.329,6.25,.443,6.255,.386,6.259,.555,6.264,.303,6.268,.416,6.273,.364,6.277,.491,6.282,.405,6.286,.336,6.291,.45,6.295,.373,6.3,.515,6.304,.296,6.309,.431,6.313,.382,6.318,.464,6.322,.325,6.327,.4,6.331,.244,6.336,.454,6.34,.348,6.345,.421,6.349,.498,6.354,.365,6.358,.306,6.363,.438,6.367,.393,6.372,.54,6.376,.355,6.381,.408,6.385,.28,6.39,.469,6.394,.334,6.399,.445,6.403,.379,6.408,.526,6.412,.313,6.417,.423,6.421,.358,6.426,.485,6.43,.398,6.435,.342,6.439,.456,6.444,.37,6.448,.509,6.453,.29,6.457,.428,6.462,.376,6.466,.46,6.471,.318,6.475,.404,6.48,.26,6.484,.449,6.489,.353,6.493,.414,6.498,.491,
6.505,.367,6.51,.448,6.516,.513,6.521,.326,6.527,.463,6.532,.39,6.538,.538,6.543,.298,6.549,.416,6.554,.48,6.56,.366,6.565,.445,6.571,.279,6.576,.524,6.582,.401,6.587,.338,6.593,.459,6.598,.385,6.604,.499,6.609,.32,6.615,.429,6.62,.374,6.626,.555,6.631,.408,6.637,.298,6.642,.47,6.648,.351,6.653,.434,6.659,.515,6.664,.364,6.67,.399,6.675,.275,6.681,.451,6.686,.38,6.692,.536,6.697,.328,6.703,.423,6.708,.49,6.714,.359,6.719,.404,6.725,.26,6.73,.466,6.736,.345,6.741,.43,6.747,.509,6.752,.373,6.758,.314,6.763,.44,6.769,.395,6.774,.529,6.78,.356,6.785,.417,6.791,.289,6.796,.483,6.802,.334,6.807,.448,6.813,.391,6.818,.56,6.824,.308,6.829,.421,6.835,.369,6.84,.496,6.846,.41,6.851,.341,6.857,.455,6.862,.378,6.868,.52,6.873,.301,6.879,.436,6.884,.387,6.89,.469,6.895,.33,6.901,.405,6.906,.249,6.912,.459,6.917,.353,6.923,.426,6.928,.503,6.934,.37,6.939,.311,6.945,.443,6.95,.398,6.956,.545,6.961,.36,6.967,.413,6.972,.285,6.978,.474,6.983,.339,6.989,.45,6.994,.384,
7.004,.372,7.012,.453,7.021,.518,7.029,.331,7.037,.468,7.046,.395,7.054,.543,7.062,.303,7.071,.421,7.079,.485,7.087,.371,7.096,.45,7.104,.284,7.112,.529,7.121,.406,7.129,.343,7.137,.464,7.146,.39,7.154,.504,7.162,.325,7.171,.434,7.179,.379,7.187,.56,7.196,.413,7.204,.303,7.212,.475,7.221,.356,7.229,.439,7.237,.52,7.246,.369,7.254,.404,7.262,.28,7.271,.456,7.279,.385,7.287,.541,7.296,.333,7.304,.428,7.312,.495,7.321,.364,7.329,.409,7.337,.265,7.346,.471,7.354,.35,7.362,.435,7.371,.514,7.379,.378,7.387,.319,7.396,.445,7.404,.4,7.412,.534,7.421,.361,7.429,.422,7.437,.294,7.446,.488,7.454,.339,7.462,.453,7.471,.396,7.479,.565,7.487,.313,7.496,.426,
7.506,.377,7.518,.458,7.531,.523,7.543,.336,7.556,.473,7.568,.4,7.581,.548,7.593,.308,7.606,.426,7.618,.49,7.631,.376,7.643,.455,7.656,.289,7.668,.534,7.681,.411,7.693,.348,7.706,.469,7.718,.395,7.731,.509,7.743,.33,7.756,.439,7.768,.384,7.781,.565,7.793,.418,7.806,.308,7.818,.48,7.831,.361,7.843,.444,7.856,.525,7.868,.374,7.881,.409,7.893,.285,7.906,.461,7.918,.39,7.931,.546,7.943,.338,7.956,.433,7.968,.5,7.981,.369,7.993,.414,
8.01,.382,8.03,.463,8.05,.528,8.07,.341,8.09,.478,8.11,.405,8.13,.553,8.15,.313,8.17,.431,8.19,.495,8.21,.381,8.23,.46,8.25,.294,8.27,.539,8.29,.416,8.31,.353,8.33,.474,8.35,.4,8.37,.514,8.39,.335,8.41,.444,8.43,.389,8.45,.57,8.47,.423,8.49,.313
];
// high average expression (x >= 7)
const highExprPts = [
7.0,.418,7.01,.538,7.02,.362,7.03,.481,7.04,.306,7.05,.603,7.06,.404,7.07,.519,7.08,.341,7.09,.457,7.1,.662,7.11,.392,7.12,.497,7.13,.433,7.14,.277,7.15,.571,7.16,.356,7.17,.472,7.18,.631,7.19,.411,7.2,.526,7.21,.298,7.22,.443,7.23,.592,7.24,.381,7.25,.506,7.26,.718,7.27,.419,7.28,.479,7.29,.347,7.3,.552,7.31,.398,7.32,.463,7.33,.641,7.34,.323,7.35,.511,7.36,.438,7.37,.577,7.38,.368,7.39,.487,7.4,.414,7.41,.689,7.42,.452,7.43,.533,7.44,.386,7.45,.494,7.46,.271,7.47,.426,7.48,.608,7.49,.403,7.05,.187,7.13,.213,7.22,.171,7.31,.226,7.39,.201,7.47,.232,7.08,.241,7.18,.252,7.27,.238,7.36,.259,7.44,.247,7.03,.781,7.12,.836,7.21,.747,7.29,.803,7.38,.858,7.46,.731,7.16,.703,7.34,.769,7.07,.289,7.25,.284,7.42,.296,
7.5,.427,7.52,.542,7.53,.369,7.55,.489,7.56,.312,7.58,.609,7.59,.407,7.61,.523,7.62,.348,7.64,.463,7.65,.651,7.67,.398,7.68,.502,7.7,.437,7.71,.283,7.73,.574,7.74,.359,7.76,.476,7.77,.626,7.79,.416,7.8,.531,7.82,.304,7.83,.448,7.85,.589,7.86,.387,7.88,.511,7.89,.703,7.91,.423,7.92,.482,7.94,.352,7.95,.556,7.97,.401,7.98,.469,7.99,.327,7.54,.196,7.63,.221,7.72,.178,7.81,.233,7.9,.209,7.98,.241,7.57,.248,7.75,.256,7.93,.262,7.6,.762,7.78,.817,7.96,.738,7.69,.693,7.87,.784,7.53,.288,7.84,.279,7.66,.301,7.85,.935,7.78,1.048,7.56,.878,
8.0,.438,8.02,.553,8.03,.376,8.05,.497,8.06,.319,8.08,.612,8.09,.414,8.11,.531,8.13,.352,8.14,.471,8.16,.583,8.17,.404,8.19,.509,8.2,.446,8.22,.291,8.23,.567,8.25,.367,8.26,.482,8.28,.596,8.29,.421,8.31,.538,8.32,.337,8.34,.456,8.35,.551,8.37,.391,8.38,.514,8.4,.672,8.41,.429,8.43,.488,8.44,.358,8.46,.572,8.47,.408,8.49,.476,8.07,.224,8.18,.198,8.27,.246,8.36,.212,8.45,.257,8.12,.752,8.24,.701,8.39,.726,8.1,.287,8.33,.274,8.48,.301,8.21,.628,8.44,.623,
8.51,.443,8.53,.567,8.55,.381,8.57,.502,8.59,.327,8.61,.598,8.63,.419,8.65,.536,8.67,.356,8.69,.478,8.71,.552,8.73,.401,8.75,.514,8.77,.448,8.79,.296,8.81,.572,8.83,.372,8.85,.487,8.87,.608,8.89,.426,8.91,.532,8.93,.341,8.95,.463,8.97,.521,8.99,.394,8.56,.243,8.68,.218,8.78,.261,8.9,.235,8.62,.683,8.84,.651,8.74,.279,8.96,.286,8.58,.152,8.8,.633,8.95,.762,8.71,.705,
9.01,.447,9.03,.562,9.05,.386,9.07,.509,9.09,.331,9.11,.581,9.13,.423,9.15,.492,9.17,.362,9.19,.468,9.21,.541,9.23,.408,9.25,.517,9.27,.298,9.12,.252,9.24,.271,9.06,.644,9.18,.612,9.29,.476,9.02,.267,
9.88,.719,9.41,.702,10.07,.663,11.40,.657,9.47,.628,9.39,.618,9.83,.626,9.87,.592,9.38,.587,11.53,.594,10.33,.58,10.92,.55,11.44,.544,10.93,.529,10.38,.532,11.20,.535,9.60,.558,9.57,.546,9.78,.547,9.97,.535,9.87,.524,9.40,.52,10.58,.516,11.91,.509,12.26,.492,11.60,.497,11.27,.491,10.99,.499,10.95,.496,10.82,.492,10.51,.503,9.51,.508,9.50,.496,9.36,.492,9.98,.493,9.82,.504,9.75,.509,9.63,.489,11.81,.474,12.08,.447,12.08,.436,10.60,.467,10.71,.463,10.43,.456,10.63,.446,10.70,.44,10.98,.443,11.00,.436,10.23,.455,10.28,.449,10.43,.432,9.90,.472,9.85,.46,9.93,.459,9.78,.478,9.65,.46,9.68,.454,9.70,.449,9.55,.467,9.47,.444,9.56,.443,9.36,.46,9.33,.442,9.62,.432,9.70,.431,9.77,.438,9.83,.427,9.89,.423,10.03,.442,10.03,.433,10.13,.424,10.17,.426,10.26,.427,10.08,.408,10.18,.407,10.27,.403,10.68,.409,10.07,.392,10.14,.395,10.22,.396,10.47,.408,9.71,.41,9.74,.40,9.87,.407,9.39,.409,9.39,.395,10.61,.39,10.82,.388,10.87,.382,11.44,.392,11.44,.384,9.29,.375,9.51,.368,9.57,.375,9.49,.36,9.40,.358,9.33,.355,9.67,.384,9.71,.388,9.70,.364,9.79,.379,10.00,.38,9.98,.368,10.30,.374,10.43,.374,10.40,.364,10.50,.36,10.64,.362,10.93,.366,11.00,.358,11.03,.356,11.22,.346,10.61,.34,10.60,.331,10.85,.34,10.94,.332,10.90,.32,10.96,.322,11.09,.324,11.12,.31,10.78,.313,11.44,.355,11.90,.351,11.87,.335,11.75,.306,12.54,.316,11.42,.302,10.07,.335,10.25,.334,9.92,.318,10.18,.303,9.57,.336,9.61,.342,9.60,.328,9.70,.343,9.36,.34,9.33,.32,9.30,.312,9.49,.318,9.57,.323,9.64,.30,9.57,.288,9.70,.288,9.48,.286,9.88,.27,9.97,.282,10.04,.26,10.14,.276,10.37,.265,10.53,.271,10.83,.273,10.89,.282,9.40,.251,9.44,.26,9.29,.275,9.73,.238,10.38,.236,10.12,.211,9.54,.195,11.46,.243,12.41,.188,13.93,.277
];
const outlierPts = [];

// ---- fitted trend (blue line) ----
const trendX = [-1.70, -1, 0, 1, 2, 3, 3.5, 4, 4.5, 5, 5.5, 6, 7, 8, 9, 10, 11, 12, 13, 13.93];
const trendY = [0.755, 0.713, 0.652, 0.593, 0.535, 0.474, 0.452, 0.434, 0.420, 0.412, 0.409, 0.409, 0.413, 0.416, 0.415, 0.412, 0.407, 0.402, 0.396, 0.390];

// ---- build chart ----
function toXY(flat) { const out = []; for (let i = 0; i + 1 < flat.length; i += 2) out.push({x: flat[i], y: flat[i + 1]}); return out; }
const normalData = [].concat(toXY(upperPts), toXY(lowExprPts), toXY(leftExtraPts), toXY(midExprPts), toXY(coreExprPts), toXY(coreExtraPts), toXY(highExprPts));
const outlierData = toXY(outlierPts);
const trendData = trendX.map((x, i) => ({x: x, y: trendY[i]}));

const FONT = '"Liberation Sans", Arial, Helvetica, sans-serif';
Chart.defaults.font.family = FONT;
Chart.defaults.font.size = 25;
Chart.defaults.color = '#000';

const boxPlugin = {
  id: 'rBox',
  afterDraw(chart) {
    const {ctx, chartArea: a} = chart;
    ctx.save();
    ctx.strokeStyle = '#000';
    ctx.lineWidth = 1.5;
    ctx.strokeRect(a.left, a.top, a.right - a.left, a.bottom - a.top);
    // legend (top-right, R style)
    const w = 136, h = 90, x0 = a.right - w, y0 = a.top;
    ctx.fillStyle = '#fff';
    ctx.fillRect(x0, y0, w, h);
    ctx.strokeRect(x0, y0, w, h);
    ctx.font = '25px ' + FONT;
    ctx.textAlign = 'left';
    ctx.textBaseline = 'middle';
    chart.data.datasets.filter(d => d.legendColor).forEach((d, i) => {
      const cy = y0 + 30 + i * 30;
      ctx.fillStyle = d.legendColor;
      ctx.beginPath(); ctx.arc(x0 + 22, cy, 5, 0, Math.PI * 2); ctx.fill();
      ctx.fillStyle = '#000';
      ctx.fillText(d.label, x0 + 46, cy + 1.5);
    });
    ctx.restore();
  }
};

new Chart(document.getElementById('c'), {
  type: 'scatter',
  data: {
    datasets: [
      {type: 'line', label: 'trend', data: trendData, borderColor: '#0000FF', borderWidth: 1.6, pointRadius: 0, fill: false, cubicInterpolationMode: 'monotone', order: 0},
      {label: seriesLabels[0], data: normalData, backgroundColor: '#000', borderWidth: 0, pointRadius: 1.5, pointHoverRadius: 1.5, legendColor: '#000', order: 1},
      {label: seriesLabels[1], data: outlierData, backgroundColor: '#FF0000', borderWidth: 0, pointRadius: 1.5, legendColor: '#FF0000', order: 1}
    ]
  },
  options: {
    responsive: false,
    animation: false,
    devicePixelRatio: 1,
    layout: {padding: {top: 123, right: 64, left: 0, bottom: 0}},
    plugins: {legend: {display: false}, tooltip: {enabled: false}},
    events: [],
    scales: {
      x: {
        type: 'linear', min: -2.318, max: 14.537,
        afterBuildTicks: s => { s.ticks = xTicks.map(v => ({value: v})); },
        afterFit: s => { s.height = 154; },
        grid: {display: true, drawOnChartArea: false, drawTicks: true, tickLength: 15, color: '#000', lineWidth: 1.5},
        border: {display: false},
        ticks: {padding: 17, maxRotation: 0, minRotation: 0, autoSkip: false, color: '#000', callback: v => String(v)},
        title: {display: true, text: xLabel, color: '#000', padding: {top: 0, bottom: 33}}
      },
      y: {
        type: 'linear', min: 0.0617, max: 1.5578,
        afterBuildTicks: s => { s.ticks = yTicks.map(v => ({value: v})); },
        afterFit: s => { s.width = 123; },
        grid: {display: true, drawOnChartArea: false, drawTicks: true, tickLength: 15, color: '#000', lineWidth: 1.5},
        border: {display: false},
        ticks: {padding: 12.6, minRotation: 90, maxRotation: 90, crossAlign: 'center', autoSkip: false, color: '#000', callback: v => Number(v).toFixed(1)},
        title: {display: true, text: yLabel, color: '#000', padding: {top: 10, bottom: 0}}
      }
    }
  },
  plugins: [boxPlugin]
});
</script>
</body></html>
